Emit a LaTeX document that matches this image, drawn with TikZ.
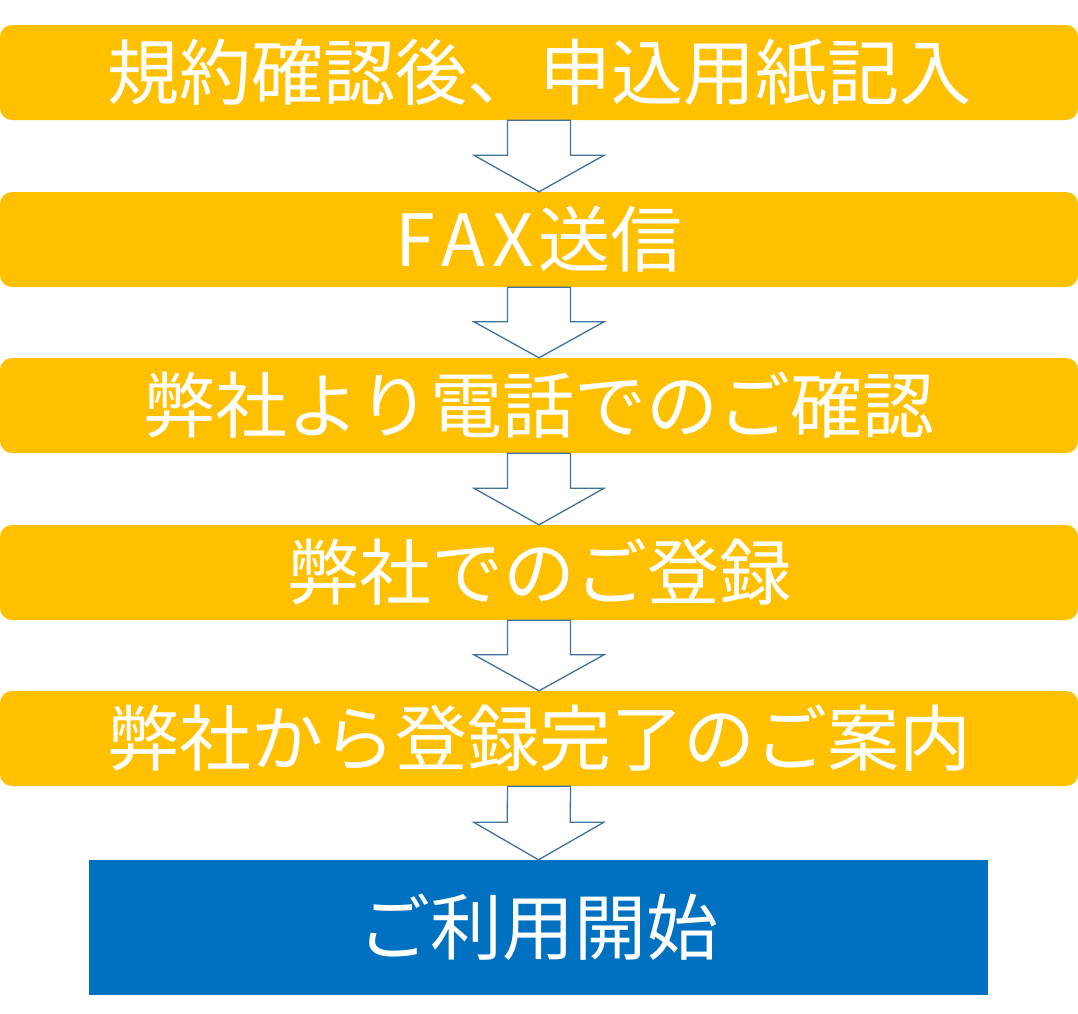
\documentclass[tikz,border=0pt]{standalone}
\usepackage{fontspec}
\usetikzlibrary{calc}
\newfontfamily\cjk{Noto Sans CJK JP}
\definecolor{boxyellow}{HTML}{FFC000}
\definecolor{boxblue}{HTML}{0070C0}
\definecolor{arrowline}{HTML}{41719C}
\begin{document}
\begin{tikzpicture}[x=1pt,y=-1pt,
  stepbox/.style={fill=boxyellow, rounded corners=12pt, minimum width=1078pt, minimum height=95pt, inner sep=0pt, text=white, font=\cjk\fontsize{72}{72}\selectfont},
  endbox/.style={fill=boxblue, minimum width=899pt, minimum height=135pt, inner sep=0pt, text=white, font=\cjk\fontsize{72}{72}\selectfont},
  downarrow/.style={draw=arrowline, fill=white, line width=1.3pt, line join=miter}
]
\useasboundingbox (0,0) rectangle (1078,1013);
\node[stepbox] (s1) at (539,72.5) {規約確認後、申込用紙記入};
\node[stepbox] (s2) at (539,239.5) {F\hspace{7pt}A\hspace{7pt}X\hspace{5pt}送信};
\node[stepbox] (s3) at (539,405.5) {弊社より電話でのご確認};
\node[stepbox] (s4) at (539,572.5) {弊社でのご登録};
\node[stepbox] (s5) at (539,738.5) {弊社から登録完了のご案内};
\node[endbox] (s6) at (538.5,927.5) {ご利用開始};
\foreach \a/\b in {s1/s2,s2/s3,s3/s4,s4/s5,s5/s6}{
  \path (\a.south) coordinate (top) (\b.north) coordinate (bot);
  \draw[downarrow] ($(top)+(-31.5,0)$) -- ($(top)+(31.5,0)$) -- ($(top)!0.49!(bot)+(31.5,0)$) -- ($(top)!0.49!(bot)+(65,0)$) -- (bot) -- ($(top)!0.49!(bot)+(-65,0)$) -- ($(top)!0.49!(bot)+(-31.5,0)$) -- cycle;
}
\end{tikzpicture}
\end{document}
